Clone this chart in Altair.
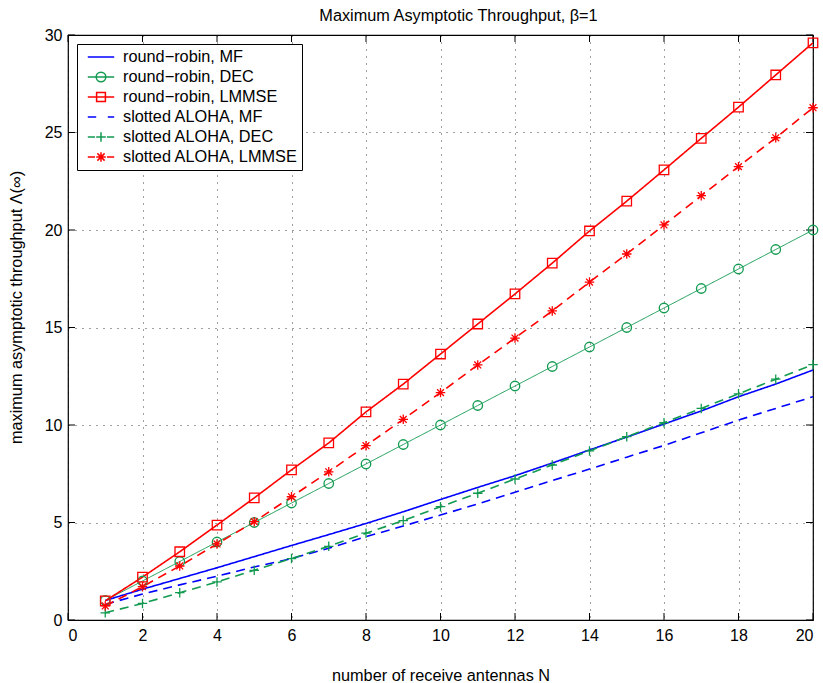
import altair as alt
import pandas as pd

# Number of receive antennas
antennas = list(range(1, 21))

# Maximum asymptotic throughput per scheme
rr_mf = [1.0, 1.58, 2.13, 2.68, 3.25, 3.82, 4.38, 4.95, 5.55, 6.18,
         6.8, 7.4, 8.05, 8.72, 9.38, 10.05, 10.72, 11.45, 12.1, 12.82]
rr_dec = [1, 2, 3, 4, 5, 6, 7, 8, 9, 10,
          11, 12, 13, 14, 15, 16, 17, 18, 19, 20]
rr_lmmse = [0.98, 2.2, 3.5, 4.87, 6.26, 7.7, 9.08, 10.67, 12.1, 13.64,
            15.18, 16.72, 18.3, 19.95, 21.48, 23.08, 24.7, 26.3, 27.95, 29.6]
sa_mf = [0.8, 1.33, 1.8, 2.25, 2.72, 3.15, 3.68, 4.27, 4.82, 5.38,
         5.95, 6.55, 7.15, 7.74, 8.35, 8.95, 9.6, 10.25, 10.85, 11.45]
sa_dec = [0.37, 0.85, 1.4, 1.95, 2.55, 3.15, 3.78, 4.45, 5.1, 5.81,
          6.5, 7.23, 7.95, 8.67, 9.4, 10.12, 10.85, 11.6, 12.35, 13.1]
sa_lmmse = [0.72, 1.71, 2.77, 3.9, 5.04, 6.32, 7.6, 8.94, 10.29, 11.66,
            13.08, 14.46, 15.85, 17.33, 18.77, 20.26, 21.76, 23.25, 24.73, 26.27]

series_names = [
    "round\u2212robin, MF",
    "round\u2212robin, DEC",
    "round\u2212robin, LMMSE",
    "slotted ALOHA, MF",
    "slotted ALOHA, DEC",
    "slotted ALOHA, LMMSE",
]
series_values = [rr_mf, rr_dec, rr_lmmse, sa_mf, sa_dec, sa_lmmse]

x_ticks = [0, 2, 4, 6, 8, 10, 12, 14, 16, 18, 20]
y_ticks = [0, 5, 10, 15, 20, 25, 30]

BLUE, GREEN, RED = "#0000ff", "#119a50", "#ff0000"
colors = [BLUE, GREEN, RED, BLUE, GREEN, RED]
dashes = [[1, 0], [1, 0], [1, 0], [9, 6], [9, 6], [9, 6]]

PLUS = "M-1,0H1M0,-1V1"
STAR = "M-1,0H1M0,-1V1M-0.72,-0.72L0.72,0.72M-0.72,0.72L0.72,-0.72"

marker_series = [series_names[1], series_names[2], series_names[4], series_names[5]]
marker_shapes = ["circle", "square", PLUS, STAR]

# Legend glyphs: line (solid or dashed) with the marker drawn over it
legend_glyphs = [
    "M-1.65,0H1.65",
    "M-1.65,0H1.65M0.6,0A0.6,0.6 0 1,0 -0.6,0A0.6,0.6 0 1,0 0.6,0",
    "M-1.65,0H1.65M-0.55,-0.55H0.55V0.55H-0.55Z",
    "M-1.65,0H-0.6M0.85,0H1.65",
    "M-1.65,0H-0.75M0.75,0H1.65M-0.6,0H0.6M0,-0.6V0.6",
    "M-1.65,0H-0.75M0.75,0H1.65M-0.6,0H0.6M0,-0.6V0.6"
    "M-0.45,-0.45L0.45,0.45M-0.45,0.45L0.45,-0.45",
]

rows = []
for name, vals in zip(series_names, series_values):
    for n, v in zip(antennas, vals):
        rows.append({"N": n, "throughput": v, "series": name})
df = pd.DataFrame(rows)

W, H = 745, 585
FONT = "Liberation Sans"
FS = 16.3

x_enc = alt.X(
    "N:Q",
    scale=alt.Scale(domain=[0, 20], nice=False),
    axis=alt.Axis(values=x_ticks, title="number of receive antennas N",
                  titlePadding=24),
)
y_enc = alt.Y(
    "throughput:Q",
    scale=alt.Scale(domain=[0, 30], nice=False),
    axis=alt.Axis(values=y_ticks,
                  title="maximum asymptotic throughput \u039b(\u221e)",
                  titlePadding=20, titleY=272),
)

series_color = alt.Color(
    "series:N",
    scale=alt.Scale(domain=series_names, range=colors),
    legend=None,
)

lines = alt.Chart(df).mark_line(clip=True).encode(
    x=x_enc,
    y=y_enc,
    color=series_color,
    strokeDash=alt.StrokeDash(
        "series:N",
        scale=alt.Scale(domain=series_names, range=dashes),
        legend=None,
    ),
    strokeWidth=alt.condition(
        alt.datum.series == series_names[1], alt.value(1.0), alt.value(1.6)
    ),
    order="N:Q",
)

points = (
    alt.Chart(df)
    .transform_filter(alt.FieldOneOfPredicate(field="series", oneOf=marker_series))
    .mark_point(filled=False, size=90, strokeWidth=1.3, opacity=1)
    .encode(
        x="N:Q",
        y="throughput:Q",
        color=series_color,
        shape=alt.Shape(
            "series:N",
            scale=alt.Scale(domain=marker_series, range=marker_shapes),
            legend=None,
        ),
    )
)

# Legend-only layer: no rows survive the filter, the scales carry the entries
legend = alt.Legend(
    title=None,
    orient="none",
    legendX=9,
    legendY=9,
    fillColor="white",
    strokeColor="black",
    padding=4,
    symbolSize=256,
    symbolOffset=11,
    labelOffset=13,
    rowPadding=2,
    labelFontSize=FS,
    labelFont=FONT,
    labelColor="black",
    labelLimit=400,
    symbolStrokeWidth=1.5,
)
legend_layer = (
    alt.Chart(df)
    .transform_filter(alt.datum.N < 0)
    .mark_point(filled=False, strokeWidth=1.5, opacity=1)
    .encode(
        x="N:Q",
        y="throughput:Q",
        color=alt.Color("series:N",
                        scale=alt.Scale(domain=series_names, range=colors),
                        legend=legend),
        shape=alt.Shape("series:N",
                        scale=alt.Scale(domain=series_names, range=legend_glyphs),
                        legend=legend),
    )
)

xt = pd.DataFrame({"v": x_ticks})
yt = pd.DataFrame({"v": y_ticks})
TICK = 7
tick_style = dict(color="black", strokeWidth=1)

ticks = alt.layer(
    alt.Chart(xt).mark_rule(**tick_style).encode(
        x="v:Q", y=alt.value(H), y2=alt.value(H - TICK)),
    alt.Chart(xt).mark_rule(**tick_style).encode(
        x="v:Q", y=alt.value(0), y2=alt.value(TICK)),
    alt.Chart(yt).mark_rule(**tick_style).encode(
        y="v:Q", x=alt.value(0), x2=alt.value(TICK)),
    alt.Chart(yt).mark_rule(**tick_style).encode(
        y="v:Q", x=alt.value(W), x2=alt.value(W - TICK)),
)

chart = (
    alt.layer(ticks, lines, points, legend_layer)
    .resolve_scale(color="independent", shape="independent")
    .properties(
        width=W,
        height=H,
        background="white",
        padding={"left": 68, "top": 35, "right": 10, "bottom": 63},
        autosize=alt.AutoSizeParams(type="none"),
        title=alt.TitleParams(
            "Maximum Asymptotic Throughput, \u03b2=1",
            fontSize=FS,
            fontWeight="normal",
            font=FONT,
            color="black",
            offset=3,
            dx=18,
        ),
    )
    .configure_view(stroke="black", strokeWidth=1.2)
    .configure_axis(
        domain=False,
        ticks=False,
        tickSize=0,
        grid=True,
        gridColor="black",
        gridDash=[1, 6],
        gridOpacity=0.75,
        gridWidth=1,
        labelFont=FONT,
        labelFontSize=16,
        labelColor="black",
        labelPadding=6,
        titleFont=FONT,
        titleFontSize=FS,
        titleFontWeight="normal",
        titleColor="black",
    )
    .configure_axisX(labelPadding=7)
)

chart.save("out.html", embed_options={"renderer": "svg", "actions": False})
